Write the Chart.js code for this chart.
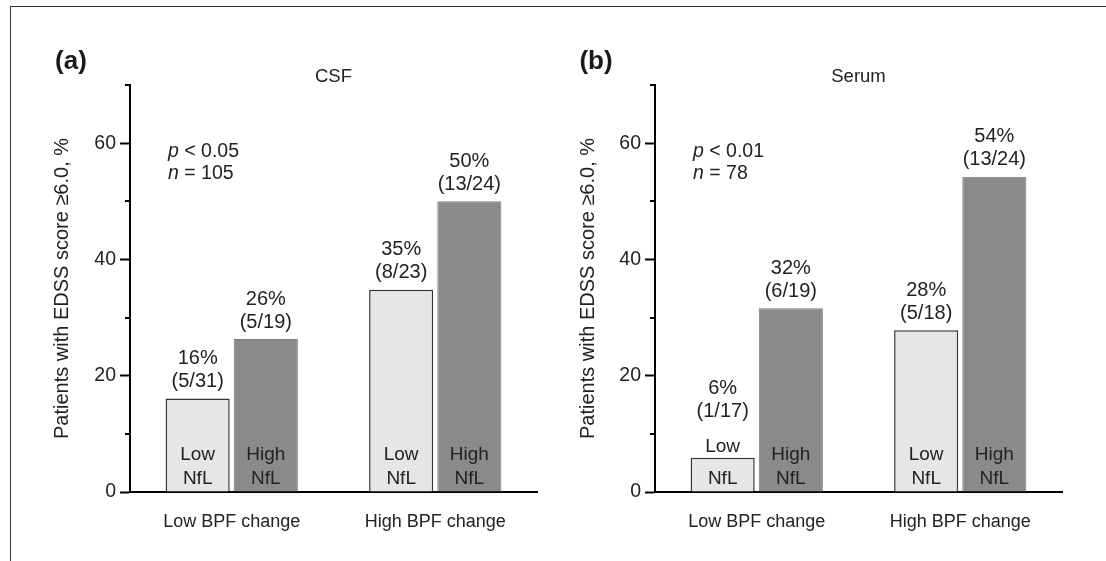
<!DOCTYPE html>
<html lang="en">
<head>
  <meta charset="UTF-8" />
  <title>EDSS score by NfL and BPF change</title>
  <script src="https://cdn.jsdelivr.net/npm/chart.js"></script>
  <style>
    body {
      margin: 0;
      background: #fff;
      font-family: 'Liberation Sans', Arial, sans-serif;
    }
    .frame {
      position: absolute;
      left: 10px; top: 6px; right: 0; bottom: 0;
      border-top: 1.5px solid #333;
      border-left: 1.5px solid #333;
    }
    .panel { position: absolute; top: 0; }
    #chartA { left: 0; }
    #chartB { left: 553px; }
  </style>
</head>
<body>
  <div class="frame"></div>
  <canvas id="chartA" class="panel" width="553" height="561"></canvas>
  <canvas id="chartB" class="panel" width="553" height="561"></canvas>

  <script>
    // categories
    const groups = ['Low BPF change', 'High BPF change'];
    const yTicks = [0, 20, 40, 60];

    // (a) CSF
    const csfLowNfl = [16.1, 34.8];
    const csfHighNfl = [26.3, 50.0];
    const csfLowPct = ['16%', '35%'];
    const csfLowFrac = ['(5/31)', '(8/23)'];
    const csfHighPct = ['26%', '50%'];
    const csfHighFrac = ['(5/19)', '(13/24)'];

    // (b) Serum
    const serumLowNfl = [5.9, 27.8];
    const serumHighNfl = [31.6, 54.2];
    const serumLowPct = ['6%', '28%'];
    const serumLowFrac = ['(1/17)', '(5/18)'];
    const serumHighPct = ['32%', '54%'];
    const serumHighFrac = ['(6/19)', '(13/24)'];

    const FONT = '"Liberation Sans", Arial, sans-serif';
    Chart.defaults.font.family = FONT;
    Chart.defaults.color = '#222';

    // text drawn on top of the chart: letter, title, stats, bar labels, minor ticks
    const annotate = {
      id: 'annotate',
      afterDraw(chart, args, o) {
        const { ctx, chartArea: a, scales: { y } } = chart;
        ctx.save();

        // short minor ticks at 10, 30, 50, 70
        ctx.strokeStyle = '#000';
        ctx.lineWidth = 2;
        y.ticks.forEach(t => {
          if (t.value % 20 !== 0) {
            const py = Math.round(y.getPixelForValue(t.value));
            ctx.beginPath();
            ctx.moveTo(a.left - 5, py);
            ctx.lineTo(a.left, py);
            ctx.stroke();
          }
        });

        ctx.fillStyle = '#1a1a1a';
        ctx.textAlign = 'center';
        ctx.textBaseline = 'middle';
        ctx.font = 'bold 26px ' + FONT;
        ctx.fillText(o.letter, a.left - 59, 62);

        ctx.fillStyle = '#222';
        ctx.font = '18.5px ' + FONT;
        ctx.fillText(o.title, (a.left + a.right) / 2, 77);

        // p and n
        ctx.textAlign = 'left';
        const sx = a.left + 38;
        [['p', ' < ' + o.p, a.top + 67], ['n', ' = ' + o.n, a.top + 89]].forEach(([sym, rest, sy]) => {
          ctx.font = 'italic 19.5px ' + FONT;
          ctx.fillText(sym, sx, sy);
          const w = ctx.measureText(sym).width;
          ctx.font = '19.5px ' + FONT;
          ctx.fillText(rest, sx + w, sy);
        });

        // bar labels; a "Low" tag that would hit a short bar goes above it
        ctx.textAlign = 'center';
        const y0 = y.getPixelForValue(0);
        chart.data.datasets.forEach((ds, di) => {
          chart.getDatasetMeta(di).data.forEach((bar, i) => {
            const tagY = bar.y > y0 - 48 ? bar.y - 11 : y0 - 37;
            const anchor = Math.min(bar.y, tagY - 18);
            ctx.font = '20px ' + FONT;
            ctx.fillText(ds.pct[i], bar.x, anchor - 40);
            ctx.fillText(ds.frac[i], bar.x, anchor - 17);
            ctx.font = '19px ' + FONT;
            ctx.fillText(ds.tag, bar.x, tagY);
            ctx.fillText('NfL', bar.x, y0 - 13);
          });
        });
        ctx.restore();
      }
    };

    function makePanel(id, cfg) {
      return new Chart(document.getElementById(id), {
        type: 'bar',
        data: {
          labels: groups,
          datasets: [
            {
              label: 'Low NfL', tag: 'Low', data: cfg.low, pct: cfg.lowPct, frac: cfg.lowFrac,
              backgroundColor: '#e6e6e6', borderColor: '#333', borderWidth: 1.5,
              categoryPercentage: 0.67, barPercentage: 0.94
            },
            {
              label: 'High NfL', tag: 'High', data: cfg.high, pct: cfg.highPct, frac: cfg.highFrac,
              backgroundColor: '#8a8a8a', borderColor: '#7a7a7a', borderWidth: 1,
              categoryPercentage: 0.67, barPercentage: 0.94
            }
          ]
        },
        options: {
          responsive: false,
          animation: false,
          layout: { padding: { left: 0, top: 85, right: cfg.padRight, bottom: 0 } },
          plugins: {
            legend: { display: false },
            tooltip: { enabled: false },
            annotate: { letter: cfg.letter, title: cfg.title, p: cfg.p, n: cfg.n }
          },
          scales: {
            x: {
              grid: { drawOnChartArea: false, drawTicks: false },
              border: { display: true, color: '#000', width: 2 },
              ticks: { font: { size: 18 }, padding: 19, maxRotation: 0, color: '#222' },
              afterFit: s => { s.height = 69; }
            },
            y: {
              min: 0,
              max: 70,
              grid: {
                drawOnChartArea: false,
                drawTicks: true,
                tickLength: 10,
                tickWidth: 2,
                tickColor: c => (yTicks.includes(c.tick.value) ? '#000' : 'rgba(0,0,0,0)')
              },
              border: { display: true, color: '#000', width: 2 },
              ticks: {
                stepSize: 10,
                autoSkip: false,
                padding: 4,
                font: { size: 19.5 },
                color: '#222',
                callback: v => (yTicks.includes(v) ? v : '')
              },
              title: {
                display: true,
                text: 'Patients with EDSS score \u22656.0, %',
                font: { size: 20 },
                color: '#222',
                padding: { top: cfg.titlePad, bottom: 0 }
              },
              afterFit: s => { s.width = cfg.axisLeft; }
            }
          }
        },
        plugins: [annotate]
      });
    }

    makePanel('chartA', {
      letter: '(a)', title: 'CSF', p: '0.05', n: '105',
      low: csfLowNfl, high: csfHighNfl,
      lowPct: csfLowPct, lowFrac: csfLowFrac, highPct: csfHighPct, highFrac: csfHighFrac,
      axisLeft: 130, padRight: 16, titlePad: 50
    });

    makePanel('chartB', {
      letter: '(b)', title: 'Serum', p: '0.01', n: '78',
      low: serumLowNfl, high: serumHighNfl,
      lowPct: serumLowPct, lowFrac: serumLowFrac, highPct: serumHighPct, highFrac: serumHighFrac,
      axisLeft: 102, padRight: 44, titlePad: 23
    });
  </script>
</body>
</html>
